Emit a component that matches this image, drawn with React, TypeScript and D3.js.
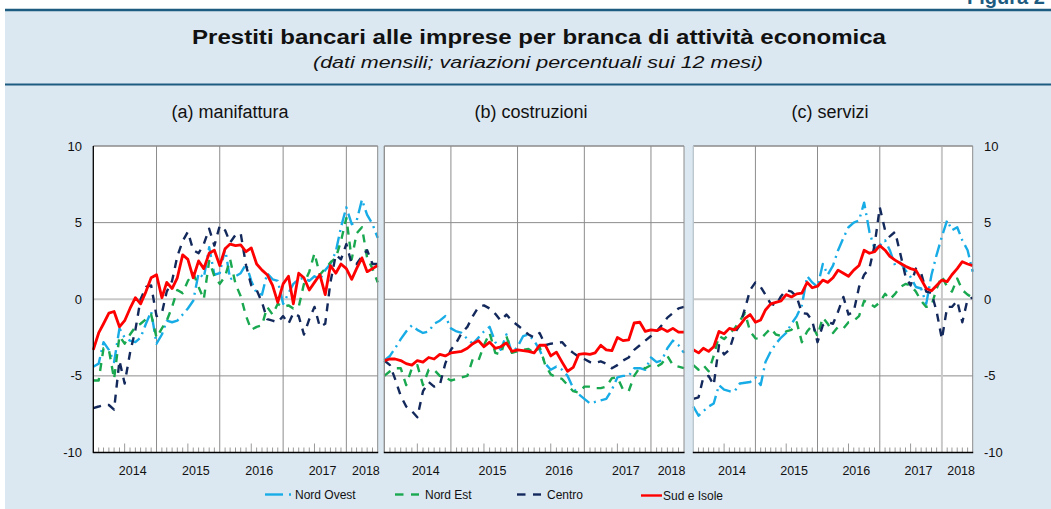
import React from "react";
import * as d3 from "d3";

// monthly observations, Jan 2014 - Jul 2018
const months = d3.timeMonth.range(new Date(2014, 0, 1), new Date(2018, 7, 1));
const yearLabels = ["2014", "2015", "2016", "2017", "2018"];
const yTicks = [-10, -5, 0, 5, 10];
const seriesNames = ["Nord Ovest", "Nord Est", "Centro", "Sud e Isole"];
const panelTitles = ["(a) manifattura", "(b) costruzioni", "(c) servizi"];

// (a) manifattura
const manNordOvest = [-4.4, -4.2, -2.8, -3.3, -4.1, -1.9, -2.5, -2.7, -2.8, -2.5, -1.6, -0.8, -2.9, -2.3, -1.4, -1.5, -1.4, -1.0, -0.6, -0.1, 1.7, 1.4, 3.4, 1.6, 1.7, 3.3, 1.3, 1.5, 1.7, 2.3, 1.2, 0.4, 0.3, 1.7, 1.3, 1.2, -0.3, 0.4, 1.0, 1.3, 1.4, 1.2, 1.5, 1.3, 1.9, 2.3, 3.1, 4.7, 6.0, 4.9, 5.1, 6.5, 5.5, 4.9, 4.0];
const manNordEst = [-5.3, -5.3, -3.2, -3.3, -5.2, -2.4, -2.9, -2.3, -1.8, -1.6, -1.3, -1.0, -2.5, -1.9, -1.4, -0.5, 0.6, 0.4, 1.2, 1.7, 0.8, 0.0, 2.5, 1.5, 1.0, 1.5, 2.6, 1.0, 0.2, -1.1, -2.0, -1.8, -1.7, -0.5, -1.0, -0.3, -0.5, -0.4, -0.6, -0.5, 1.0, 1.8, 3.0, 1.6, 2.0, 2.4, 2.7, 3.8, 5.3, 2.6, 4.3, 4.7, 2.7, 2.0, 1.1];
const manCentro = [-7.1, -7.0, -6.9, -6.9, -7.2, -4.0, -5.5, -3.5, -2.0, 0.0, 0.8, 0.9, -1.1, -0.9, 0.5, 1.2, 2.8, 3.8, 4.4, 3.2, 3.0, 3.6, 4.6, 3.5, 4.8, 4.5, 3.7, 4.2, 4.3, 2.2, 0.9, 0.6, -0.2, -1.3, -1.4, -1.5, -1.1, -1.6, -0.9, -1.1, -2.3, -1.3, -0.5, -1.8, -1.6, 1.1, 2.9, 2.6, 3.6, 2.3, 2.3, 2.8, 3.2, 2.3, 2.3];
const manSudIsole = [-3.3, -2.2, -1.6, -0.9, -0.8, -1.8, -1.4, -0.6, 0.1, -0.3, 0.5, 1.4, 1.6, 0.1, 1.1, 0.7, 1.4, 2.9, 2.6, 1.4, 2.5, 2.0, 3.0, 3.2, 2.2, 3.3, 3.6, 3.5, 3.55, 3.1, 3.35, 2.3, 1.9, 1.6, 0.9, -0.2, 1.0, 1.5, -0.3, 1.7, 1.4, 0.6, 1.1, 1.6, 0.3, 2.2, 1.7, 2.3, 2.0, 1.3, 2.0, 2.7, 1.8, 2.0, 2.2];

// (b) costruzioni
const cosNordOvest = [-4.0, -3.7, -3.2, -2.6, -2.1, -1.7, -2.0, -2.2, -2.1, -1.6, -1.4, -1.1, -1.9, -2.1, -2.2, -2.6, -2.9, -2.5, -2.1, -1.8, -2.8, -3.3, -2.3, -3.5, -3.1, -2.4, -2.3, -2.7, -3.3, -4.2, -4.6, -4.4, -4.6, -5.0, -5.8, -6.2, -6.5, -6.8, -6.7, -6.6, -6.5, -5.9, -5.1, -5.0, -5.0, -4.5, -4.5, -4.6, -3.8, -4.1, -4.0, -3.2, -2.7, -3.0, -3.5];
const cosNordEst = [-5.0, -4.7, -4.5, -4.5, -5.6, -4.5, -4.3, -5.6, -4.6, -4.6, -5.0, -5.1, -5.3, -5.2, -5.1, -5.0, -3.9, -4.0, -3.0, -2.2, -3.5, -3.6, -2.4, -3.5, -3.4, -3.3, -3.25, -3.5, -3.1, -4.3, -4.9, -5.1, -5.2, -5.6, -6.0, -6.1, -5.7, -5.7, -5.8, -5.8, -5.7, -5.15, -5.1, -5.9, -6.0, -5.0, -4.45, -4.5, -4.3, -4.4, -4.2, -3.7, -4.3, -4.4, -4.5];
const cosCentro = [-4.0, -4.3, -5.2, -6.3, -7.0, -7.3, -7.7, -6.0, -5.4, -5.7, -5.6, -4.2, -3.3, -2.8, -2.2, -1.8, -1.1, -0.5, -0.4, -0.6, -0.95, -1.4, -1.0, -1.4, -1.7, -2.0, -2.3, -2.5, -2.2, -3.0, -2.9, -2.85, -2.8, -3.2, -3.5, -3.75, -3.9, -4.1, -4.15, -4.05, -4.2, -4.5, -4.3, -4.0, -3.8, -3.3, -3.0, -2.7, -2.4, -2.1, -1.7, -1.2, -0.9, -0.6, -0.5];
const cosSudIsole = [-4.0, -3.9, -3.9, -4.0, -4.2, -4.3, -4.0, -4.1, -3.8, -3.9, -3.6, -3.7, -3.5, -3.45, -3.4, -3.2, -2.9, -2.7, -3.1, -2.8, -3.2, -3.1, -2.85, -3.4, -3.3, -3.35, -3.4, -3.5, -3.0, -3.0, -3.7, -3.45, -4.1, -4.7, -4.45, -3.6, -3.55, -3.6, -3.5, -3.0, -3.3, -3.35, -2.5, -2.7, -2.65, -1.55, -1.5, -2.1, -2.0, -2.05, -1.9, -2.1, -1.9, -2.15, -2.15];

// (c) servizi
const serNordOvest = [-7.0, -7.6, -7.3, -7.0, -6.8, -5.6, -5.9, -6.0, -6.0, -5.5, -5.45, -5.4, -5.1, -5.6, -4.1, -3.4, -2.9, -2.5, -2.2, -1.6, -1.1, -0.4, 1.5, 1.1, 0.8, 2.3, 1.6, 2.2, 3.2, 4.0, 4.7, 5.0, 5.15, 6.3, 4.4, 3.3, 3.5, 3.85, 3.2, 2.2, 2.4, 1.9, 1.45, 0.8, 0.7, -0.3, 1.6, 2.9, 4.1, 5.15, 4.5, 4.7, 3.85, 3.2, 1.8];
const serNordEst = [-4.3, -4.6, -4.3, -4.7, -3.7, -2.4, -2.6, -2.25, -1.9, -1.4, -0.9, -2.1, -2.55, -2.6, -2.25, -1.9, -2.3, -2.4, -2.1, -2.0, -1.5, -2.8, -2.1, -1.7, -2.4, -1.2, -1.6, -2.2, -1.8, -1.9, -1.5, -1.4, -1.1, -0.1, -0.25, -0.5, -0.2, 0.35, 0.0, 0.35, 0.8, 1.0, 0.9, 0.5, -0.1, -0.5, -0.4, 0.7, 1.5, 0.8, 0.5, 1.35, 0.6, 0.3, 0.1];
const serCentro = [-6.5, -6.4, -5.1, -5.0, -5.6, -3.0, -3.6, -3.3, -2.2, -1.7, -0.6, 0.6, 1.1, 0.8, 0.3, -0.3, -0.4, 0.2, 0.6, 0.5, 0.15, -0.9, -0.95, -1.4, -2.8, -1.7, -1.5, -1.6, -0.8, 0.15, -1.0, -0.8, 0.8, 1.6, 2.0, 3.5, 6.0, 4.5, 4.1, 4.4, 3.0, 1.5, 0.9, 2.0, 1.7, 0.5, 0.4, -0.8, -2.6, -0.5, -0.5, -0.1, -1.5, 0.0, 0.1];
const serSudIsole = [-3.3, -3.5, -3.2, -3.4, -3.1, -2.1, -2.25, -1.9, -2.0, -1.7, -1.25, -1.0, -1.5, -1.35, -0.7, -0.3, -0.2, -0.1, 0.3, 0.15, 0.35, 0.4, 1.1, 0.75, 0.85, 1.25, 1.1, 1.4, 1.9, 1.7, 1.5, 1.9, 2.2, 3.2, 3.0, 3.1, 3.5, 3.2, 2.8, 2.55, 2.35, 2.15, 2.0, 1.9, 1.3, 0.7, 0.55, 0.9, 1.25, 1.15, 1.6, 2.0, 2.45, 2.3, 2.2];

const panelData = [
  [manNordOvest, manNordEst, manCentro, manSudIsole],
  [cosNordOvest, cosNordEst, cosCentro, cosSudIsole],
  [serNordOvest, serNordEst, serCentro, serSudIsole],
];

const BG = "#dce8f1";
const HEAD = "#1d5b80";
const GRID = "#8c8c8c";
const FONT = "'Liberation Sans', Arial, Helvetica, sans-serif";

const seriesStyle = [
  { color: "#18ace6", dash: "13,5,2,5", width: 2.4 },
  { color: "#19a84f", dash: "8,7", width: 2.4 },
  { color: "#13295c", dash: "8,7", width: 2.4 },
  { color: "#ff0000", dash: null, width: 2.8 },
];

// plot frames
const frames = [
  { left: 93.3, right: 377.7, leftAxis: "black", zeroLight: true, lastGridLight: false, titleX: 230 },
  { left: 384.3, right: 684, leftAxis: GRID, zeroLight: false, lastGridLight: false, titleX: 531 },
  { left: 693.3, right: 972.7, leftAxis: "#b9c4cc", zeroLight: true, lastGridLight: true, titleX: 830 },
];
const TOP = 146;
const BOTTOM = 452.5;

const legendPos = [265, 395, 517, 641];

function Panel({ idx }: { idx: number }) {
  const f = frames[idx];
  const x = d3
    .scaleTime()
    .domain([months[0], months[months.length - 1]])
    .range([f.left, f.right]);
  const y = d3.scaleLinear().domain([-10, 10]).range([BOTTOM, TOP]);
  const last = months[months.length - 1];

  const line = d3
    .line<number>()
    .x((_, i) => x(months[i]))
    .y((v) => y(v));

  const yearStarts = months.filter((d, i) => i > 0 && d.getMonth() === 0);

  return (
    <g>
      <rect x={f.left} y={TOP} width={f.right - f.left} height={BOTTOM - TOP} fill="white" />
      {yTicks
        .filter((t) => t !== -10)
        .map((t) => (
          <line
            key={"h" + t}
            x1={f.left}
            x2={f.right}
            y1={y(t)}
            y2={y(t)}
            stroke={t === 0 && f.zeroLight ? "#c9c9c9" : GRID}
            strokeWidth={t === 0 && f.zeroLight ? 2 : 1}
          />
        ))}
      {yearStarts.map((d, k) => {
        const light = f.lastGridLight && k === yearStarts.length - 1;
        return (
          <line
            key={"v" + d.getFullYear()}
            x1={x(d)}
            x2={x(d)}
            y1={TOP}
            y2={BOTTOM}
            stroke={light ? "#c9c9c9" : GRID}
            strokeWidth={light ? 2 : 1}
          />
        );
      })}
      {months.map((d, i) =>
        i === 0 || i === months.length - 1 || d.getMonth() === 0 ? null : (
          <line
            key={"t" + i}
            x1={x(d)}
            x2={x(d)}
            y1={BOTTOM}
            y2={BOTTOM - (d.getMonth() === 6 ? 9 : 5)}
            stroke="#999"
            strokeWidth={1}
          />
        )
      )}
      {panelData[idx].map((vals, s) => (
        <path
          key={"s" + s}
          d={line(vals) || ""}
          fill="none"
          stroke={seriesStyle[s].color}
          strokeWidth={seriesStyle[s].width}
          strokeDasharray={seriesStyle[s].dash || undefined}
          strokeLinejoin="round"
        />
      ))}
      {/* frame */}
      <line x1={f.left} x2={f.right} y1={TOP} y2={TOP} stroke={GRID} strokeWidth={1} />
      <line x1={f.right} x2={f.right} y1={TOP} y2={BOTTOM} stroke={GRID} strokeWidth={1} />
      <line x1={f.left} x2={f.left} y1={TOP} y2={BOTTOM} stroke={f.leftAxis} strokeWidth={1.3} />
      <line x1={f.left - 0.5} x2={f.right + 0.5} y1={BOTTOM} y2={BOTTOM} stroke="black" strokeWidth={1.5} />
      {yearLabels.map((lab) => {
        const yr = +lab;
        const s = +new Date(yr, 1, 15);
        const e = Math.min(+new Date(yr + 1, 1, 15), +last);
        const cx = (x(new Date(s)) + x(new Date(e))) / 2;
        return (
          <text key={lab} x={cx} y={474.5} textAnchor="middle" fontSize={12.5} fill="#111">
            {lab}
          </text>
        );
      })}
      <text x={f.titleX} y={118} textAnchor="middle" fontSize={18} fill="#111">
        {panelTitles[idx]}
      </text>
      {idx === 0 &&
        yTicks.map((t) => (
          <text key={"yl" + t} x={82} y={y(t)} dy="0.35em" textAnchor="end" fontSize={13} fill="#111">
            {t}
          </text>
        ))}
      {idx === 2 &&
        yTicks.map((t) => (
          <text key={"yr" + t} x={984} y={y(t)} dy="0.35em" textAnchor="start" fontSize={13} fill="#111">
            {t}
          </text>
        ))}
    </g>
  );
}

export default function App() {
  return (
    <svg
      width={1051}
      height={509}
      style={{ position: "absolute", left: 0, top: 0, background: "white" }}
      fontFamily={FONT}
    >
      <rect x={5} y={9} width={1046} height={500} fill={BG} />
      <line x1={5} x2={1051} y1={10} y2={10} stroke={HEAD} strokeWidth={2.5} />
      <line x1={5} x2={1051} y1={84.5} y2={84.5} stroke={HEAD} strokeWidth={2} />
      <text x={967} y={4} fontSize={20} fontWeight="bold" fill={HEAD}>
        Figura 2
      </text>
      <text x={539} y={44} textAnchor="middle" fontSize={20} fontWeight="bold" fill="#111" textLength={694} lengthAdjust="spacingAndGlyphs">
        Prestiti bancari alle imprese per branca di attività economica
      </text>
      <text x={538} y={68} textAnchor="middle" fontSize={17} fontStyle="italic" fill="#111" textLength={450} lengthAdjust="spacingAndGlyphs">
        (dati mensili; variazioni percentuali sui 12 mesi)
      </text>
      {frames.map((_, i) => (
        <Panel key={i} idx={i} />
      ))}
      {seriesNames.map((name, i) => {
        const lx = legendPos[i];
        const st = seriesStyle[i];
        const ly = i === 3 ? 495.5 : 494.5;
        return (
          <g key={name}>
            {i === 0 && (
              <>
                <line x1={lx} x2={lx + 18} y1={ly} y2={ly} stroke={st.color} strokeWidth={2.4} />
                <line x1={lx + 24} x2={lx + 26} y1={ly} y2={ly} stroke={st.color} strokeWidth={2.4} />
              </>
            )}
            {(i === 1 || i === 2) && (
              <>
                <line x1={lx} x2={lx + 8.5} y1={ly} y2={ly} stroke={st.color} strokeWidth={2.4} />
                <line x1={lx + 16} x2={lx + 24} y1={ly} y2={ly} stroke={st.color} strokeWidth={2.4} />
              </>
            )}
            {i === 3 && <line x1={lx} x2={lx + 21} y1={ly} y2={ly} stroke={st.color} strokeWidth={2.4} />}
            <text x={i === 3 ? lx + 22 : lx + 30} y={ly + 4.3} fontSize={12} fill="#111">
              {name}
            </text>
          </g>
        );
      })}
    </svg>
  );
}
